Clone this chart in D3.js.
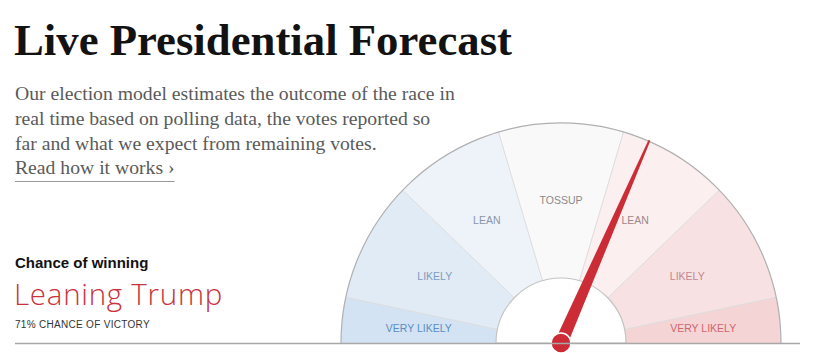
<!DOCTYPE html>
<html>
<head>
<meta charset="utf-8">
<script src="https://cdn.jsdelivr.net/npm/d3@7"></script>
<style>
  html, body { margin: 0; padding: 0; background: #fff; }
  svg { display: block; }
</style>
</head>
<body>
<div id="chart"></div>
<script>
// ---- data ----
const title = "Live Presidential Forecast";
const introLines = [
  "Our election model estimates the outcome of the race in",
  "real time based on polling data, the votes reported so",
  "far and what we expect from remaining votes."
];
const linkText = "Read how it works \u203A";
const segmentLabels = ["VERY LIKELY", "LIKELY", "LEAN", "TOSSUP", "LEAN", "LIKELY", "VERY LIKELY"];
// chance of a Trump win (%) at each segment edge, left (Biden) to right (Trump)
const segmentBreaks = [0, 2, 10, 35, 65, 90, 98, 100];
const trumpChance = 71;
const leaderText = "Leaning Trump";

// ---- styles ----
const segFill = ["#d4e3f3", "#e1ebf6", "#eef3fa", "#f9f9f9", "#fbeff0", "#f7e1e3", "#f5d4d6"];
const segText = ["#5a8dc2", "#7b9cc0", "#8996a7", "#8a8a8a", "#9e878b", "#c3868f", "#cc6672"];
const red = "#cb2c35";

const W = 816, H = 353;
const cx = 561, cy = 343;
const rOuter = 220, rInner = 65, rLabel = 143;

const svg = d3.select("#chart").append("svg")
  .attr("width", W)
  .attr("height", H);

// chance -> degrees from the left horizontal (the dial is not linear)
const angleScale = d3.scaleLinear()
  .domain(segmentBreaks)
  .range([0, 12, 44, 73.5, 106.5, 136, 168, 180]);
const toRad = deg => (deg - 90) * Math.PI / 180;

/////////////////// header text ///////////////////
const titleText = svg.append("text")
  .attr("x", 14)
  .attr("y", 55)
  .style("font-family", "'Liberation Serif', 'DejaVu Serif', serif")
  .style("font-weight", "bold")
  .style("font-size", "50px")
  .style("fill", "#121212")
  .text(title);
// fit to the reference width
let tw = titleText.node().getComputedTextLength();
titleText.style("font-size", (50 * 498 / tw) + "px");

const intro = svg.append("g").attr("class", "intro");
const introSize = 20;
intro.selectAll("text.line")
  .data(introLines)
  .enter().append("text")
  .attr("class", "line")
  .attr("x", 15)
  .attr("y", (d, i) => 100 + i * 24.8)
  .style("font-family", "'Liberation Serif', serif")
  .style("font-size", introSize + "px")
  .style("fill", "#5a5a5a")
  .text(d => d);
const w0 = intro.select("text.line").node().getComputedTextLength();
const fitSize = introSize * 440 / w0;
intro.selectAll("text.line").style("font-size", fitSize + "px");

const link = intro.append("text")
  .attr("x", 15)
  .attr("y", 174)
  .style("font-family", "'Liberation Serif', serif")
  .style("font-size", fitSize + "px")
  .style("fill", "#5a5a5a")
  .text(linkText);
const lw = link.node().getComputedTextLength();
intro.append("line")
  .attr("x1", 15).attr("x2", 15 + lw)
  .attr("y1", 181.5).attr("y2", 181.5)
  .style("stroke", "#999")
  .style("stroke-width", 1);

/////////////////// left summary ///////////////////
svg.append("text")
  .attr("x", 15).attr("y", 268)
  .style("font-family", "'Liberation Sans', Arial, sans-serif")
  .style("font-weight", "bold")
  .style("font-size", "15px")
  .style("fill", "#121212")
  .text("Chance of winning");

const leader = svg.append("text")
  .attr("x", 14).attr("y", 305)
  .style("font-family", "'Open Sans', Roboto, sans-serif")
  .style("font-weight", 300)
  .style("font-size", "29.5px")
  .style("fill", "#c9333b")
  .text(leaderText);
// spread letters to the reference width
const leadW = leader.node().getComputedTextLength();
leader.style("letter-spacing", ((209 - leadW) / leaderText.length) + "px");

svg.append("text")
  .attr("x", 15).attr("y", 328)
  .style("font-family", "'Liberation Sans', Arial, sans-serif")
  .style("font-size", "10px")
  .style("letter-spacing", "0.3px")
  .style("fill", "#333")
  .text(trumpChance + "% CHANCE OF VICTORY");

/////////////////// gauge ///////////////////
const segments = segmentLabels.map((label, i) => ({
  label: label,
  from: segmentBreaks[i],
  to: segmentBreaks[i + 1],
  i: i
}));

const gauge = svg.append("g")
  .attr("transform", `translate(${cx},${cy})`);

const arc = d3.arc()
  .innerRadius(rInner)
  .outerRadius(rOuter)
  .startAngle(d => toRad(angleScale(d.from)))
  .endAngle(d => toRad(angleScale(d.to)));

gauge.selectAll("path.seg")
  .data(segments)
  .enter().append("path")
  .attr("class", "seg")
  .attr("d", arc)
  .style("fill", d => segFill[d.i]);

// dividers between the segments
gauge.selectAll("line.div")
  .data(segmentBreaks.slice(1, -1))
  .enter().append("line")
  .attr("class", "div")
  .attr("x1", d => rInner * Math.sin(toRad(angleScale(d))))
  .attr("y1", d => -rInner * Math.cos(toRad(angleScale(d))))
  .attr("x2", d => rOuter * Math.sin(toRad(angleScale(d))))
  .attr("y2", d => -rOuter * Math.cos(toRad(angleScale(d))))
  .style("stroke", "#dcdcdc")
  .style("stroke-width", 1);

// outer and inner rims
const rim = d3.arc().startAngle(-Math.PI / 2).endAngle(Math.PI / 2);
gauge.append("path")
  .attr("d", rim.innerRadius(rOuter).outerRadius(rOuter)())
  .style("fill", "none")
  .style("stroke", "#b0b0b0")
  .style("stroke-width", 1.2);
gauge.append("path")
  .attr("d", d3.arc().startAngle(-Math.PI / 2).endAngle(Math.PI / 2).innerRadius(0).outerRadius(rInner)())
  .style("fill", "#fff")
  .style("stroke", "#c4c4c4")
  .style("stroke-width", 1.2);

// segment labels
gauge.selectAll("text.segLabel")
  .data(segments)
  .enter().append("text")
  .attr("class", "segLabel")
  .attr("x", d => rLabel * Math.sin(toRad(angleScale((d.from + d.to) / 2))))
  .attr("y", d => -rLabel * Math.cos(toRad(angleScale((d.from + d.to) / 2))))
  .attr("text-anchor", "middle")
  .attr("dy", "0.35em")
  .style("font-family", "'Liberation Sans', Arial, sans-serif")
  .style("font-size", "10.5px")
  .style("fill", d => segText[d.i])
  .text(d => d.label);

// baseline
svg.append("line")
  .attr("x1", 15).attr("x2", 800)
  .attr("y1", cy + 0.5).attr("y2", cy + 0.5)
  .style("stroke", "#a8a8a8")
  .style("stroke-width", 1.5);

// needle
const needle = gauge.append("g")
  .attr("transform", `rotate(${angleScale(trumpChance) - 90})`);
needle.append("path")
  .attr("d", d3.line()([[-6.5, 0], [-1, -rOuter - 1], [1, -rOuter - 1], [6.5, 0]]) + "Z")
  .style("fill", red);
gauge.append("circle")
  .attr("r", 10)
  .style("fill", red)
  .style("stroke", "#fff")
  .style("stroke-width", 1.5);
</script>
</body>
</html>
